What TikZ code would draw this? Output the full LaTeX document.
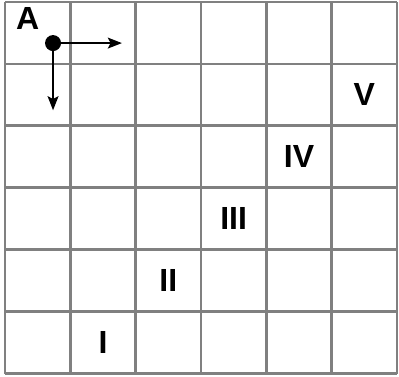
\documentclass[tikz,border=0pt]{standalone}
\usepackage{fontspec}
\setmainfont{Liberation Sans}
\usetikzlibrary{arrows.meta}

\tikzset{
  numeral/.style={font=\bfseries\fontsize{24}{24}\selectfont, inner sep=0pt},
  dot/.style={circle, fill=black, inner sep=0pt, minimum size=12pt},
  dir/.style={line width=1.9pt, -{Stealth[length=10.5pt,width=8pt,inset=2pt]}}
}

\begin{document}
\begin{tikzpicture}[x=49pt,y=46.5pt]
\useasboundingbox (-0.077,-0.049) rectangle (6.031,6.032);
\draw[line width=2.2pt,gray,step=1] (0,0) grid (6,6);
\node[numeral] (a) at (0.345,5.741) {A};
\node[dot] (p) at (0.735,5.337) {};
\coordinate (e) at (1.79,5.337);
\coordinate (s) at (0.735,4.252);
\draw[dir] (p.center) -- (e);
\draw[dir] (p.center) -- (s);
\node[numeral] (r1) at (1.5,0.5) {I};
\node[numeral] (r2) at (2.5,1.5) {II};
\node[numeral] (r3) at (3.5,2.5) {III};
\node[numeral] (r4) at (4.5,3.5) {IV};
\node[numeral] (r5) at (5.5,4.5) {V};
\end{tikzpicture}
\end{document}
